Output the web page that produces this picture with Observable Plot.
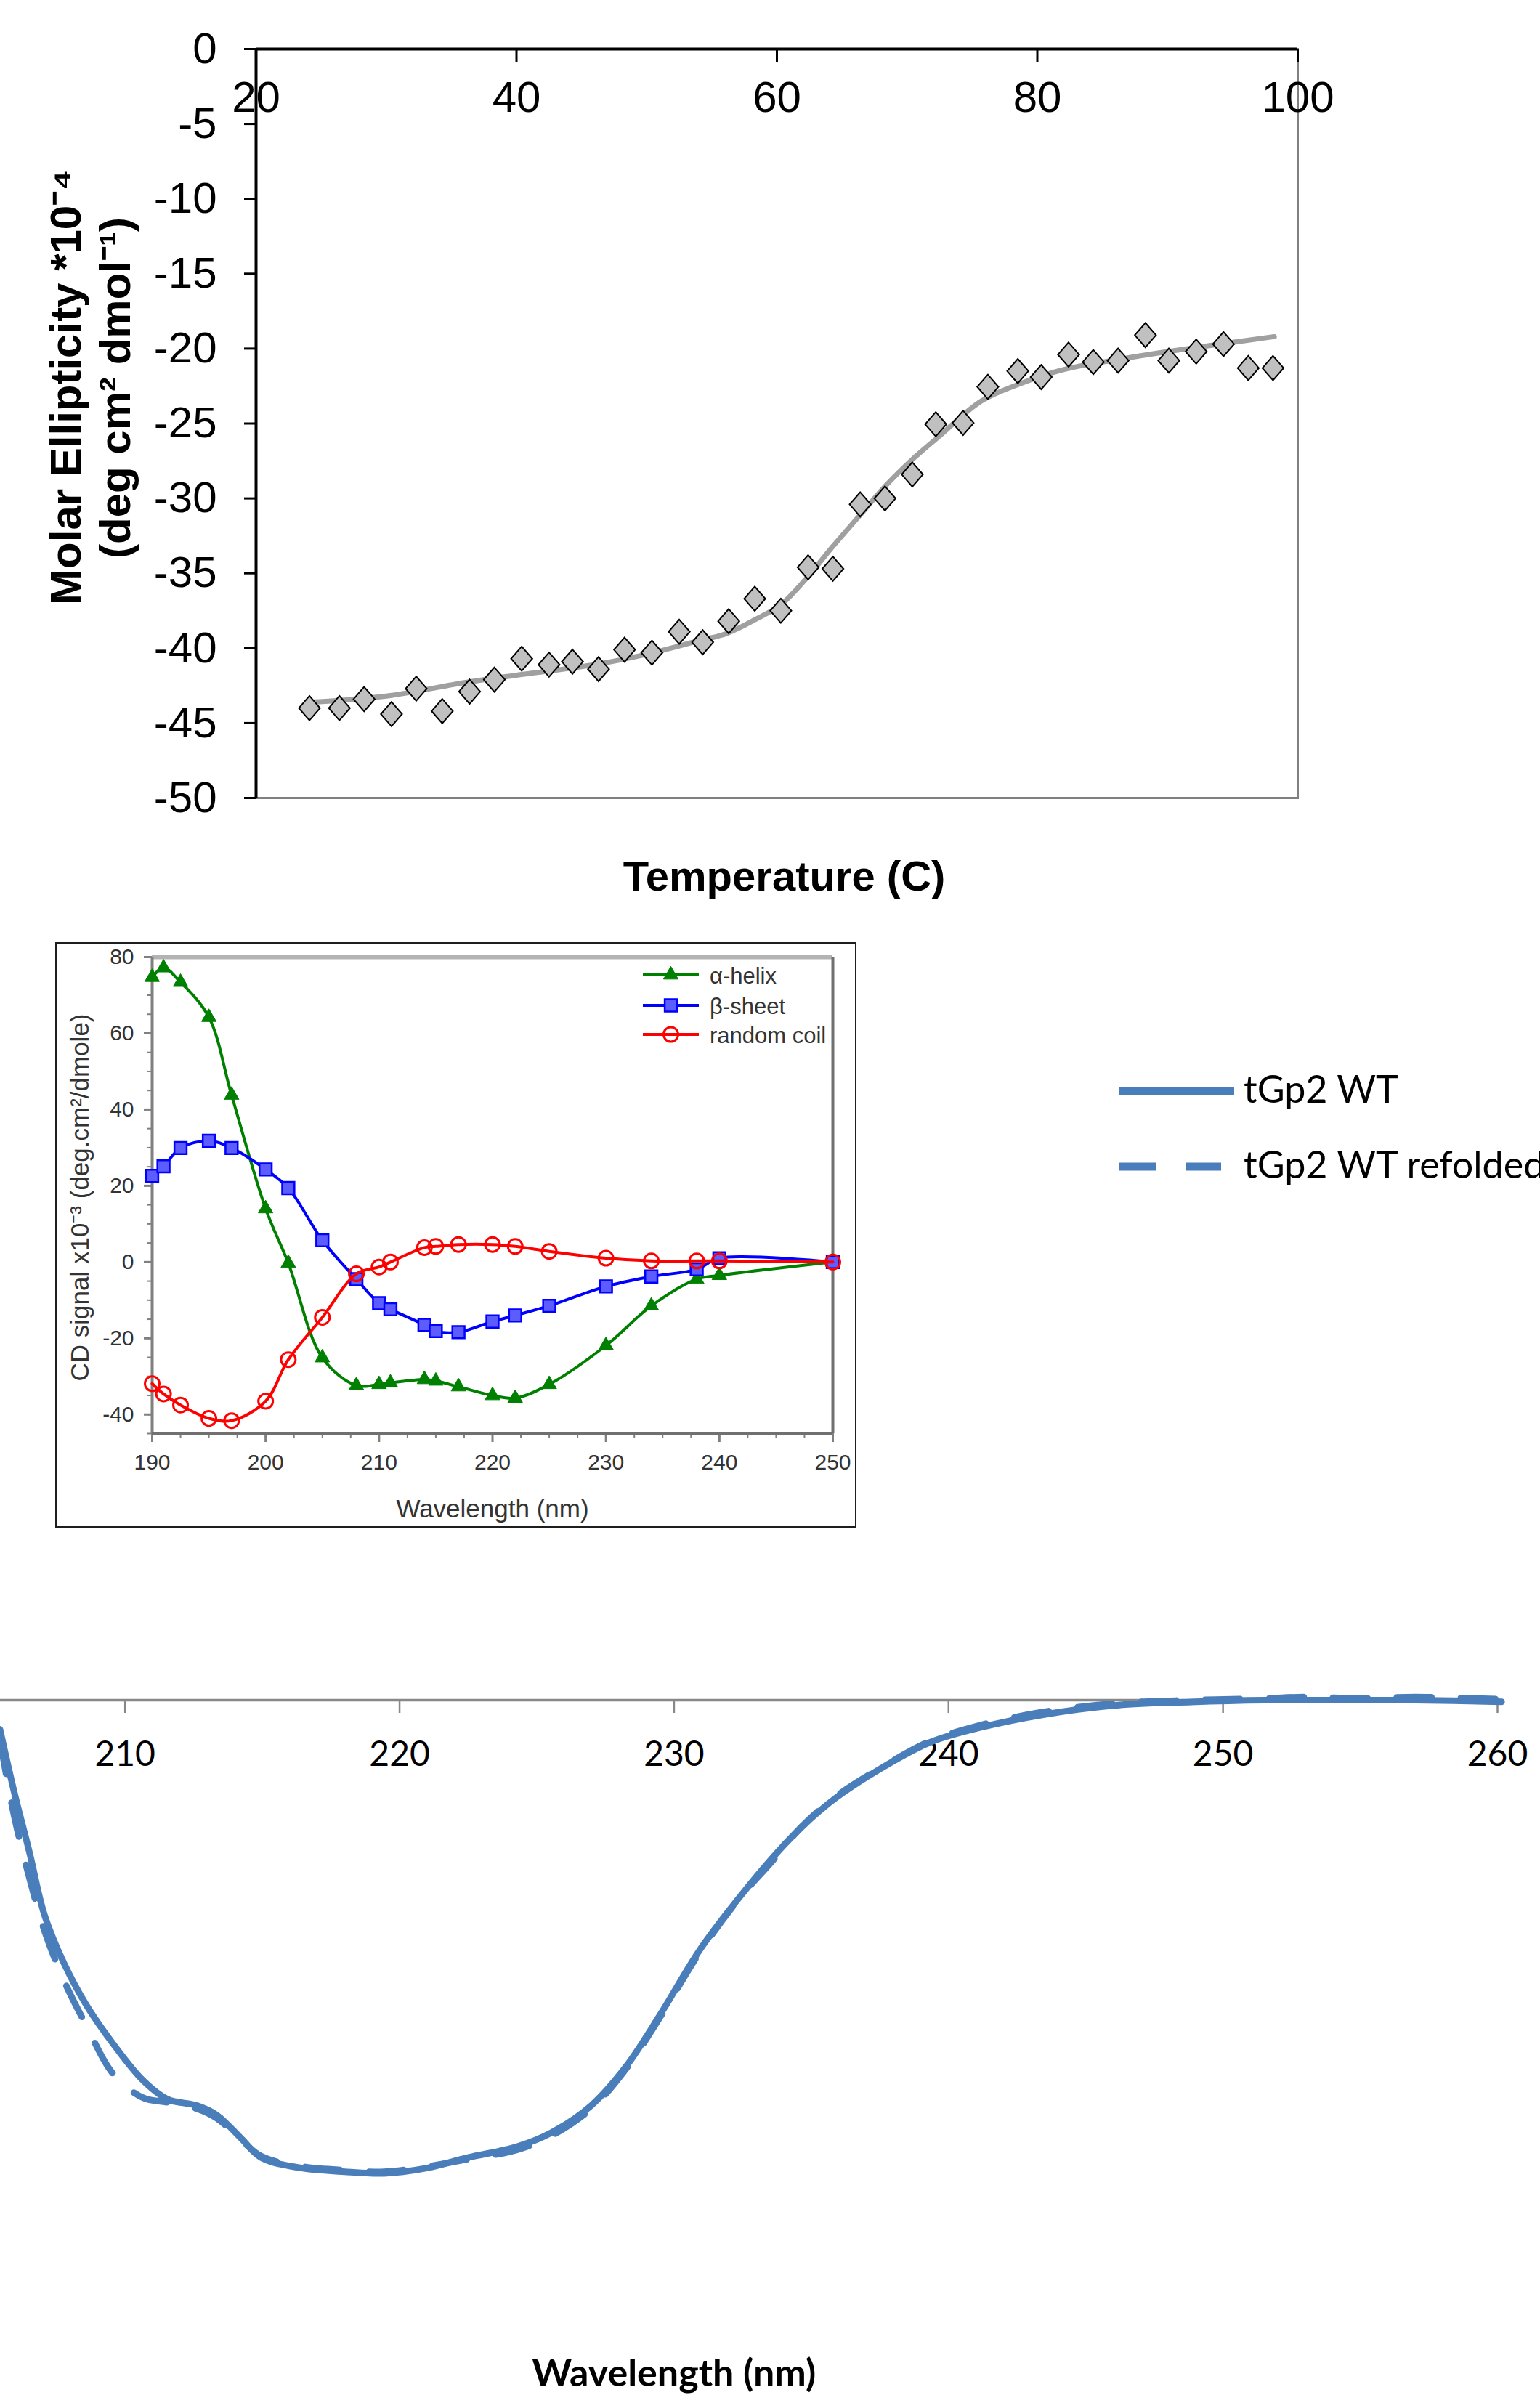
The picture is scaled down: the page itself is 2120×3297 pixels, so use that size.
<!DOCTYPE html>
<html>
<head>
<meta charset="utf-8">
<script src="https://cdn.jsdelivr.net/npm/d3@7"></script>
<script src="https://cdn.jsdelivr.net/npm/@observablehq/plot@0.6"></script>
<style>
  html, body { margin: 0; padding: 0; background: #fff; }
  #page { position: relative; width: 2120px; height: 3297px; overflow: hidden; background: #fff; }
  .panel { position: absolute; }
  .panel svg { max-width: none !important; overflow: visible; }
</style>
</head>
<body>
<div id="page"></div>
<script>
// ---------- Panel 1: thermal melt ----------
const meltTemp = [24.1, 26.4, 28.3, 30.4, 32.3, 34.3, 36.4, 38.3, 40.4, 42.5,
  44.3, 46.3, 48.3, 50.4, 52.5, 54.3, 56.3, 58.3, 60.3, 62.4,
  64.3, 66.4, 68.3, 70.4, 72.2, 74.3, 76.2, 78.5, 80.3, 82.4,
  84.3, 86.2, 88.3, 90.1, 92.2, 94.3, 96.2, 98.1];
const meltValue = [-44.0, -44.0, -43.4, -44.4, -42.7, -44.2, -42.9, -42.1, -40.7, -41.1,
  -40.9, -41.4, -40.1, -40.3, -38.9, -39.6, -38.2, -36.7, -37.5, -34.6,
  -34.7, -30.4, -30.0, -28.4, -25.05, -24.96, -22.55, -21.5, -21.9, -20.4,
  -20.9, -20.8, -19.1, -20.8, -20.2, -19.7, -21.3, -21.3];
const fitTemp = [24.2, 30, 36, 40, 46, 50, 54, 56.2, 58.3, 60.3, 62.4, 64.3, 66.4, 68.3, 70.4, 72.4, 75.7, 78.5, 82, 86.4, 90, 94, 98.2];
const fitValue = [-43.6, -43.2, -42.3, -41.8, -41.1, -40.4, -39.5, -39.0, -38.1, -37.1, -35.2, -33.2, -31.1, -29.2, -27.4, -25.9, -23.5, -22.4, -21.4, -20.7, -20.2, -19.7, -19.2];
const meltXTicks = [20, 40, 60, 80, 100];
const meltYTicks = [0, -5, -10, -15, -20, -25, -30, -35, -40, -45, -50];
const meltXTitle = "Temperature (C)";
const meltYTitle1 = "Molar Ellipticity *10\u207B\u2074";
const meltYTitle2 = "(deg cm\u00B2 dmol\u207B\u00B9)";

// ---------- Panel 2: reference spectra ----------
const refWavelength = [190, 191, 192.5, 195, 197, 200, 202, 205, 208, 210, 211, 214, 215, 217, 220, 222, 225, 230, 234, 238, 240, 250];
const helixValues = [74.7, 77.2, 73.4, 64.2, 43.8, 14.0, -0.3, -25.1, -32.4, -32.1, -31.7, -30.8, -31.2, -32.7, -35.0, -35.7, -32.1, -21.9, -11.5, -4.5, -3.5, 0];
const sheetValues = [22.6, 25.1, 29.9, 31.8, 29.9, 24.3, 19.4, 5.7, -4.5, -10.8, -12.4, -16.5, -18.1, -18.4, -15.6, -14.0, -11.5, -6.4, -3.8, -1.9, 1.0, 0];
const coilValues = [-31.9, -34.6, -37.5, -41.0, -41.6, -36.5, -25.6, -14.5, -3.1, -1.3, 0, 3.8, 4.1, 4.6, 4.6, 4.1, 2.8, 1.0, 0.3, 0.3, 0.3, 0];
const refSeriesNames = ["\u03B1-helix", "\u03B2-sheet", "random coil"];
const refXTicks = [190, 200, 210, 220, 230, 240, 250];
const refXMinor = [190, 192.5, 195, 197.5, 200, 202.5, 205, 207.5, 210, 212.5, 215, 217.5, 220, 222.5, 225, 227.5, 230, 232.5, 235, 237.5, 240, 242.5, 245, 247.5, 250];
const refYTicks = [-40, -20, 0, 20, 40, 60, 80];
const refYMinor = [-45, -40, -35, -30, -25, -20, -15, -10, -5, 0, 5, 10, 15, 20, 25, 30, 35, 40, 45, 50, 55, 60, 65, 70, 75, 80];
const refXTitle = "Wavelength (nm)";
const refYTitle = "CD signal x10\u207B\u00B3 (deg.cm\u00B2/dmole)";

// ---------- Panel 3: tGp2 spectra ----------
const cdWavelength = [205.44, 205.98, 206.52, 207.06, 207.78, 208.58, 209.57, 210.65, 211.55, 212.62,
  213.34, 214.24, 214.95, 216.21, 218.0, 219.44, 220.88, 222.49, 224.29, 225.55,
  226.98, 228.24, 229.49, 230.93, 232.36, 233.58, 234.66, 235.91, 237.53, 239.33,
  241.12, 243.45, 246.15, 248.84, 251.5, 253.0, 255.1, 257.0, 260.15];
const wtValues = [-1.84, -5.97, -9.67, -13.6, -16.7, -19.3, -21.8, -24.1, -25.3, -25.7,
  -26.3, -27.8, -29.0, -29.6, -29.9, -30.0, -29.7, -29.0, -28.3, -27.4,
  -25.7, -23.25, -19.95, -15.85, -12.55, -10.0, -8.03, -6.17, -4.33, -2.67,
  -1.75, -0.92, -0.32, -0.11, 0, 0, 0, 0, -0.1];
const refoldedValues = [-2.5, -7.5, -11.3, -14.6, -17.8, -20.6, -23.7, -25.2, -25.5, -25.9,
  -26.5, -27.9, -28.9, -29.5, -29.8, -29.9, -29.6, -29.1, -28.5, -27.6,
  -25.9, -23.4, -20.1, -16.0, -12.6, -10.2, -8.0, -6.1, -4.3, -2.6,
  -1.6, -0.75, -0.2, 0.0, 0.1, 0.2, 0.1, 0.2, 0.05];
const cdXTicks = [210, 220, 230, 240, 250, 260];
const cdXDomain = [205.456, 260];
const cdAxisSpan = [200, 260];
const cdSeriesNames = ["tGp2 WT", "tGp2 WT refolded"];
const cdXTitle = "Wavelength (nm)";

// ---------- helpers ----------
const rows = (xs, ys) => xs.map((x, i) => ({x, y: ys[i]}));
const fmt = d => `${d}`;
const tallDiamond = {
  draw(context, size) {
    const w = Math.sqrt(size) * 0.5, h = w * 1.15;
    context.moveTo(0, -h); context.lineTo(w, 0); context.lineTo(0, h); context.lineTo(-w, 0); context.closePath();
  }
};
const page = d3.select("#page");
function place(svg, left, top, width) {
  const div = page.append("div").attr("class", "panel")
    .style("left", left + "px").style("top", top + "px").style("width", width + "px");
  div.node().appendChild(svg);
}

// ---------- Panel 1 ----------
const sans = "'Liberation Sans', Arial, sans-serif";
const melt = Plot.plot({
  width: 1900, height: 1250,
  marginLeft: 352, marginRight: 114, marginTop: 67, marginBottom: 152,
  x: {domain: [20, 100]},
  y: {domain: [-50, 0]},
  style: {fontFamily: sans, background: "transparent", maxWidth: "none", overflow: "visible", color: "black"},
  marks: [
    Plot.frame({stroke: "#808080", strokeWidth: 3}),
    Plot.line(rows(fitTemp, fitValue), {x: "x", y: "y", stroke: "#a0a0a0", strokeWidth: 7, curve: "catmull-rom"}),
    Plot.dot(rows(meltTemp, meltValue), {x: "x", y: "y", symbol: tallDiamond, r: 16.5, fill: "#c0c0c0", stroke: "#000", strokeWidth: 2}),
    Plot.ruleX([20], {stroke: "#000", strokeWidth: 4}),
    Plot.ruleY([0], {stroke: "#000", strokeWidth: 4}),
    Plot.axisY({ticks: meltYTicks, tickFormat: fmt, tickSize: 16, tickPadding: 38, fontSize: 60, stroke: "#000", strokeWidth: 3, fill: "#000", label: null}),
    Plot.axisX({anchor: "bottom", frameAnchor: "top", ticks: meltXTicks, tickFormat: fmt, tickSize: 19, tickPadding: 25, fontSize: 60, stroke: "#000", strokeWidth: 3, fill: "#000", label: null}),
    Plot.text([meltXTitle], {frameAnchor: "bottom", dx: 10, dy: 127, lineAnchor: "bottom", fontSize: 58, fontWeight: "bold", fill: "#000"}),
    Plot.text([meltYTitle1], {frameAnchor: "left", textAnchor: "middle", rotate: -90, dx: -261, dy: -50, lineAnchor: "middle", fontSize: 60, fontWeight: "bold", fill: "#000"}),
    Plot.text([meltYTitle2], {frameAnchor: "left", textAnchor: "middle", rotate: -90, dx: -193, dy: -49, lineAnchor: "middle", fontSize: 60, fontWeight: "bold", fill: "#000"})
  ]
});
place(melt, 0, 0, 1900);

// ---------- Panel 2 ----------
page.append("div").style("position", "absolute").style("left", "76px").style("top", "1297px")
  .style("width", "1103px").style("height", "806px").style("box-sizing", "border-box")
  .style("border", "2px solid #1e1e1e");

const refColors = ["#008000", "#0000ff", "#ff0000"];
const helixRows = rows(refWavelength, helixValues);
const sheetRows = rows(refWavelength, sheetValues);
const coilRows = rows(refWavelength, coilValues);
const reference = Plot.plot({
  width: 1200, height: 830,
  marginLeft: 209, marginRight: 54, marginTop: 27, marginBottom: 147,
  x: {domain: [190, 250]},
  y: {domain: [-45, 80]},
  style: {fontFamily: sans, background: "transparent", maxWidth: "none", overflow: "visible"},
  marks: [
    Plot.ruleY([80], {stroke: "#b3b3b3", strokeWidth: 6}),
    Plot.ruleX([250], {stroke: "#707070", strokeWidth: 4}),
    Plot.axisY({ticks: refYMinor, tickSize: 6, stroke: "#808080", strokeWidth: 2, fill: "none", label: null}),
    Plot.axisY({ticks: refYTicks, tickFormat: fmt, tickSize: 11, tickPadding: 14, fontSize: 30, stroke: "#808080", strokeWidth: 3, fill: "#333", label: null}),
    Plot.axisX({ticks: refXMinor, tickSize: 6, stroke: "#808080", strokeWidth: 2, fill: "none", label: null}),
    Plot.axisX({ticks: refXTicks, tickFormat: fmt, tickSize: 12, tickPadding: 16, fontSize: 30, stroke: "#808080", strokeWidth: 3, fill: "#333", label: null}),
    Plot.ruleX([190], {stroke: "#808080", strokeWidth: 4}),
    Plot.ruleY([-45], {stroke: "#707070", strokeWidth: 4}),
    Plot.line(helixRows, {x: "x", y: "y", stroke: refColors[0], strokeWidth: 4, curve: "catmull-rom"}),
    Plot.dot(helixRows, {x: "x", y: "y", symbol: "triangle", r: 7.5, fill: refColors[0], stroke: refColors[0], strokeWidth: 1}),
    Plot.line(sheetRows, {x: "x", y: "y", stroke: refColors[1], strokeWidth: 4, curve: "catmull-rom"}),
    Plot.dot(sheetRows, {x: "x", y: "y", symbol: "square", r: 9.5, fill: "#5c5cff", stroke: refColors[1], strokeWidth: 2.5}),
    Plot.line(coilRows, {x: "x", y: "y", stroke: refColors[2], strokeWidth: 4, curve: "catmull-rom"}),
    Plot.dot(coilRows, {x: "x", y: "y", symbol: "circle", r: 10, fill: "none", stroke: refColors[2], strokeWidth: 3}),
    Plot.text([refXTitle], {frameAnchor: "bottom", dy: 115, lineAnchor: "bottom", fontSize: 35, fill: "#333"}),
    Plot.text([refYTitle], {frameAnchor: "left", textAnchor: "middle", rotate: -90, dx: -99, dy: 3, lineAnchor: "middle", fontSize: 35, fill: "#333"})
  ]
});
place(reference, 0, 1290, 1200);

// ---------- Panel 3 ----------
const lato = "Lato, 'Open Sans', sans-serif";
const cdBlue = "#4a7ebb";
const cd = Plot.plot({
  width: 2120, height: 997,
  marginLeft: 0, marginRight: 59, marginTop: 40, marginBottom: 197,
  x: {domain: cdXDomain},
  y: {domain: [-35, 0], axis: null},
  style: {fontFamily: lato, background: "transparent", maxWidth: "none", overflow: "hidden"},
  marks: [
    Plot.ruleY([0], {stroke: "#888", strokeWidth: 3.5}),
    Plot.axisX({anchor: "bottom", frameAnchor: "top", ticks: cdXTicks, tickFormat: fmt, tickSize: 18, tickPadding: 38, fontSize: 48, stroke: "#888", strokeWidth: 2.5, fill: "#000", label: null}),
    Plot.line(rows(cdWavelength, wtValues), {x: "x", y: "y", stroke: cdBlue, strokeWidth: 9, curve: "catmull-rom"}),
    Plot.line(rows(cdWavelength, refoldedValues), {x: "x", y: "y", stroke: cdBlue, strokeWidth: 9, strokeDasharray: "48,40", curve: "catmull-rom"}),
    Plot.text([cdXTitle], {x: () => d3.mean(cdAxisSpan), frameAnchor: "bottom", dy: 184, lineAnchor: "bottom", fontSize: 52, fontWeight: "bold", fill: "#000"})
  ]
});
place(cd, 0, 2300, 2120);

// ---------- Legends ----------
const ov = page.append("svg").attr("width", 2120).attr("height", 3297)
  .style("position", "absolute").style("left", "0px").style("top", "0px").style("pointer-events", "none");

// inset legend
const insetSymbols = [d3.symbolTriangle, d3.symbolSquare, d3.symbolCircle];
const insetSizes = [Math.PI * 7.5 * 7.5, Math.PI * 9.5 * 9.5, Math.PI * 100];
const insetFills = [refColors[0], "#5c5cff", "none"];
const insetRowY = [1342, 1384, 1424];
const lg = ov.append("g").attr("font-family", sans).attr("font-size", 31).attr("fill", "#333");
refSeriesNames.forEach((name, i) => {
  const y = insetRowY[i];
  lg.append("line").attr("x1", 885).attr("x2", 962).attr("y1", y).attr("y2", y)
    .attr("stroke", refColors[i]).attr("stroke-width", 4);
  lg.append("path").attr("transform", `translate(923.5,${y})`)
    .attr("d", d3.symbol(insetSymbols[i], insetSizes[i])())
    .attr("fill", insetFills[i]).attr("stroke", refColors[i]).attr("stroke-width", i === 0 ? 1 : i === 1 ? 2.5 : 3);
  lg.append("text").attr("x", 977).attr("y", y + 11.5).text(name);
});

// tGp2 legend
const cdRowY = [1502, 1606];
const cdDash = [null, "51,41"];
const cdLineEnd = [1699, 1681];
const cg = ov.append("g").attr("font-family", lato).attr("font-size", 52).attr("fill", "#000");
cdSeriesNames.forEach((name, i) => {
  const y = cdRowY[i];
  cg.append("line").attr("x1", 1540).attr("x2", cdLineEnd[i]).attr("y1", y).attr("y2", y)
    .attr("stroke", cdBlue).attr("stroke-width", 11).attr("stroke-dasharray", cdDash[i]);
  cg.append("text").attr("x", 1712).attr("y", y + 16).text(name);
});
</script>
</body>
</html>
